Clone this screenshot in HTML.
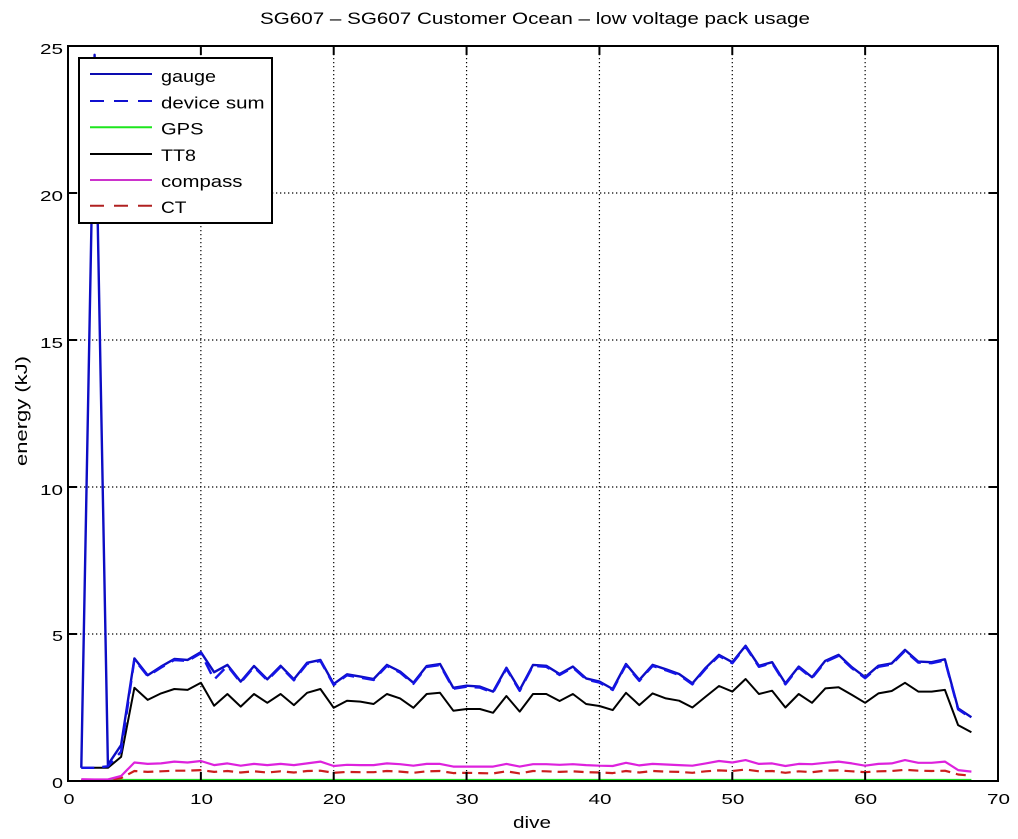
<!DOCTYPE html>
<html>
<head>
<meta charset="utf-8">
<style>
html,body{margin:0;padding:0;background:#fff;}
svg{display:block;}
text{font-family:"Liberation Sans",Arial,sans-serif;fill:#000;}
</style>
</head>
<body>
<svg width="1018" height="839" viewBox="0 0 1018 839" xmlns="http://www.w3.org/2000/svg">
<rect x="0" y="0" width="1018" height="839" fill="#fff"/>

<!-- title -->
<text x="535" y="24" font-size="16.5" text-anchor="middle" textLength="550" lengthAdjust="spacingAndGlyphs">SG607 – SG607 Customer Ocean – low voltage pack usage</text>

<!-- grid -->
<g stroke="#000" stroke-width="1.2" stroke-dasharray="1.3 2.7" fill="none">
<line x1="200.86" y1="46" x2="200.86" y2="781"/>
<line x1="333.71" y1="46" x2="333.71" y2="781"/>
<line x1="466.57" y1="46" x2="466.57" y2="781"/>
<line x1="599.43" y1="46" x2="599.43" y2="781"/>
<line x1="732.29" y1="46" x2="732.29" y2="781"/>
<line x1="865.14" y1="46" x2="865.14" y2="781"/>
<line x1="68" y1="634" x2="998" y2="634"/>
<line x1="68" y1="487" x2="998" y2="487"/>
<line x1="68" y1="340" x2="998" y2="340"/>
<line x1="68" y1="193" x2="998" y2="193"/>
</g>

<!-- data -->
<g fill="none" stroke-linejoin="round" stroke-linecap="butt">
<polyline stroke="#22dd22" stroke-width="2.2" points="81.3,780 971.4,780"/>
<polyline stroke="#cc1e1e" stroke-width="2.2" stroke-dasharray="10 6" points="81.3,780.1 94.6,780.1 107.9,780.1 121.1,778.1 134.4,771 147.7,771.9 161,771.3 174.3,770.7 187.6,770.7 200.9,770.1 214.1,771.9 227.4,771 240.7,772.5 254,771.3 267.3,772.5 280.6,771.3 293.9,772.5 307.1,771 320.4,770.7 333.7,772.8 347,771.9 360.3,772.2 373.6,772.2 386.9,771 400.1,771.6 413.4,772.8 426.7,771.3 440,771 453.3,773.1 466.6,772.8 479.9,773.1 493.1,773.4 506.4,771.3 519.7,773.4 533,771 546.3,771.3 559.6,771.9 572.9,771.3 586.1,772.2 599.4,772.5 612.7,773.1 626,771 639.3,772.5 652.6,771 665.9,771.6 679.1,771.9 692.4,772.8 705.7,771.3 719,770.4 732.3,771 745.6,769.5 758.9,771.3 772.1,771 785.4,772.8 798.7,771.3 812,772.2 825.3,770.7 838.6,770.4 851.9,771.3 865.1,772.2 878.4,771.3 891.7,771 905,769.8 918.3,770.7 931.6,771 944.9,770.7 958.1,774.5 971.4,775.7"/>
<polyline stroke="#dd22dd" stroke-width="2.2" points="81.3,779.2 94.6,779.5 107.9,779.5 121.1,776 134.4,762.5 147.7,763.9 161,763.4 174.3,761.6 187.6,762.5 200.9,761 214.1,765.1 227.4,763.4 240.7,765.7 254,763.9 267.3,765.1 280.6,763.9 293.9,765.1 307.1,763.4 320.4,761.6 333.7,766 347,764.8 360.3,765.1 373.6,765.1 386.9,763.4 400.1,764.2 413.4,765.7 426.7,763.9 440,763.9 453.3,766.6 466.6,766.6 479.9,766.6 493.1,766.6 506.4,763.9 519.7,766.6 533,764.2 546.3,764.2 559.6,764.8 572.9,764.2 586.1,765.1 599.4,765.7 612.7,766 626,762.8 639.3,765.4 652.6,763.9 665.9,764.5 679.1,765.1 692.4,765.7 705.7,763.4 719,761 732.3,762.5 745.6,760.1 758.9,763.9 772.1,763.4 785.4,766 798.7,763.9 812,764.2 825.3,762.8 838.6,761.6 851.9,763.4 865.1,765.7 878.4,763.9 891.7,763.4 905,760.1 918.3,762.8 931.6,762.8 944.9,761.6 958.1,770.1 971.4,771.6"/>
<polyline stroke="#000" stroke-width="2" points="81.3,767.8 94.6,767.8 107.9,767.8 121.1,756.9 134.4,687.8 147.7,699.9 161,693.4 174.3,689 187.6,689.9 200.9,682.8 214.1,705.7 227.4,694 240.7,706.6 254,694 267.3,702.8 280.6,694 293.9,705.1 307.1,692.8 320.4,689 333.7,707.8 347,700.7 360.3,701.6 373.6,704 386.9,694 400.1,698.4 413.4,707.8 426.7,694 440,692.8 453.3,710.7 466.6,709 479.9,709 493.1,712.8 506.4,696 519.7,711.6 533,694 546.3,694 559.6,701 572.9,694 586.1,704 599.4,706 612.7,710.1 626,692.8 639.3,705.1 652.6,693.4 665.9,698.4 679.1,700.7 692.4,707.5 705.7,696.6 719,686 732.3,691.6 745.6,679 758.9,694 772.1,690.7 785.4,707.5 798.7,694 812,702.8 825.3,688.4 838.6,687.2 851.9,694.9 865.1,702.8 878.4,693.4 891.7,691 905,682.8 918.3,691.6 931.6,691.6 944.9,689.9 958.1,725.1 971.4,732.2"/>
<polyline stroke="#0c0cc4" stroke-width="2.4" points="81.3,767.8 94.6,54.8 107.9,764.8 121.1,745.1 134.4,658.4 147.7,675.2 161,666.6 174.3,659 187.6,659.9 200.9,652.2 214.1,672.2 227.4,664.9 240.7,681.6 254,666 267.3,679.3 280.6,665.8 293.9,679.3 307.1,662.8 320.4,659.9 333.7,684 347,674.3 360.3,676.6 373.6,679 386.9,664.9 400.1,671.6 413.4,682.8 426.7,666 440,664 453.3,687.8 466.6,685.7 479.9,686.6 493.1,691.6 506.4,667.8 519.7,689.9 533,664.9 546.3,665.8 559.6,674 572.9,666.6 586.1,678.4 599.4,681.6 612.7,689 626,664 639.3,679.9 652.6,664.9 665.9,669.3 679.1,674 692.4,683.4 705.7,667.8 719,654.9 732.3,662.2 745.6,645.8 758.9,665.8 772.1,662.2 785.4,683.4 798.7,666.6 812,677.2 825.3,660.8 838.6,654.9 851.9,667.2 865.1,677.2 878.4,665.8 891.7,663.4 905,649.9 918.3,661.6 931.6,662.2 944.9,659.3 958.1,708.4 971.4,717.2"/>
<polyline stroke="#1414e6" stroke-width="2.4" stroke-dasharray="13 8" points="81.3,767.8 94.6,767.8 107.9,766.3 121.1,751.6 134.4,659.4 147.7,676.2 161,667.6 174.3,660 187.6,660.9 200.9,653.2 214.1,679.6 227.4,665.9 240.7,682.6 254,667 267.3,680.3 280.6,666.8 293.9,680.3 307.1,663.8 320.4,660.9 333.7,685 347,675.3 360.3,677.6 373.6,680 386.9,665.9 400.1,672.6 413.4,683.8 426.7,667 440,665 453.3,688.8 466.6,686.7 479.9,687.6 493.1,692.6 506.4,668.8 519.7,690.9 533,665.9 546.3,666.8 559.6,675 572.9,667.6 586.1,679.4 599.4,682.6 612.7,690 626,665 639.3,680.9 652.6,665.9 665.9,670.3 679.1,675 692.4,684.4 705.7,668.8 719,655.9 732.3,663.2 745.6,646.8 758.9,666.8 772.1,663.2 785.4,684.4 798.7,667.6 812,678.2 825.3,661.8 838.6,655.9 851.9,668.2 865.1,678.2 878.4,666.8 891.7,664.4 905,650.9 918.3,662.6 931.6,663.2 944.9,660.3 958.1,709.4 971.4,718.2"/>
</g>

<!-- axes box -->
<rect x="68" y="46" width="930" height="735" fill="none" stroke="#000" stroke-width="2"/>

<!-- ticks -->
<g stroke="#000" stroke-width="2">
<line x1="200.86" y1="781" x2="200.86" y2="772"/>
<line x1="333.71" y1="781" x2="333.71" y2="772"/>
<line x1="466.57" y1="781" x2="466.57" y2="772"/>
<line x1="599.43" y1="781" x2="599.43" y2="772"/>
<line x1="732.29" y1="781" x2="732.29" y2="772"/>
<line x1="865.14" y1="781" x2="865.14" y2="772"/>
<line x1="200.86" y1="46" x2="200.86" y2="55"/>
<line x1="333.71" y1="46" x2="333.71" y2="55"/>
<line x1="466.57" y1="46" x2="466.57" y2="55"/>
<line x1="599.43" y1="46" x2="599.43" y2="55"/>
<line x1="732.29" y1="46" x2="732.29" y2="55"/>
<line x1="865.14" y1="46" x2="865.14" y2="55"/>
<line x1="68" y1="634" x2="77" y2="634"/>
<line x1="68" y1="487" x2="77" y2="487"/>
<line x1="68" y1="340" x2="77" y2="340"/>
<line x1="68" y1="193" x2="77" y2="193"/>
<line x1="998" y1="634" x2="989" y2="634"/>
<line x1="998" y1="487" x2="989" y2="487"/>
<line x1="998" y1="340" x2="989" y2="340"/>
<line x1="998" y1="193" x2="989" y2="193"/>
</g>

<!-- x tick labels -->
<g font-size="15" text-anchor="middle">
<text x="69" y="804" textLength="11" lengthAdjust="spacingAndGlyphs">0</text>
<text x="201.5" y="804" textLength="23" lengthAdjust="spacingAndGlyphs">10</text>
<text x="334.3" y="804" textLength="23" lengthAdjust="spacingAndGlyphs">20</text>
<text x="467.2" y="804" textLength="23" lengthAdjust="spacingAndGlyphs">30</text>
<text x="600" y="804" textLength="23" lengthAdjust="spacingAndGlyphs">40</text>
<text x="732.9" y="804" textLength="23" lengthAdjust="spacingAndGlyphs">50</text>
<text x="865.7" y="804" textLength="23" lengthAdjust="spacingAndGlyphs">60</text>
<text x="998.5" y="804" textLength="23" lengthAdjust="spacingAndGlyphs">70</text>
</g>

<!-- y tick labels -->
<g font-size="15" text-anchor="end">
<text x="63" y="788" textLength="11" lengthAdjust="spacingAndGlyphs">0</text>
<text x="63" y="641" textLength="11" lengthAdjust="spacingAndGlyphs">5</text>
<text x="63" y="495" textLength="23" lengthAdjust="spacingAndGlyphs">10</text>
<text x="63" y="348" textLength="23" lengthAdjust="spacingAndGlyphs">15</text>
<text x="63" y="201" textLength="23" lengthAdjust="spacingAndGlyphs">20</text>
<text x="63" y="54" textLength="23" lengthAdjust="spacingAndGlyphs">25</text>
</g>

<!-- axis labels -->
<text x="532" y="828" font-size="16.5" text-anchor="middle" textLength="38" lengthAdjust="spacingAndGlyphs">dive</text>
<text transform="translate(27,411) rotate(-90)" x="0" y="0" font-size="16.5" text-anchor="middle" textLength="110" lengthAdjust="spacingAndGlyphs">energy (kJ)</text>

<!-- legend -->
<rect x="79" y="58" width="193" height="165" fill="#fff" stroke="#000" stroke-width="2"/>
<g stroke-width="2">
<line x1="90" y1="74" x2="152" y2="74" stroke="#0c0cb0"/>
<line x1="90" y1="101" x2="152" y2="101" stroke="#1010d0" stroke-dasharray="14 10"/>
<line x1="90" y1="127.3" x2="152" y2="127.3" stroke="#1ee61e"/>
<line x1="90" y1="154" x2="152" y2="154" stroke="#000"/>
<line x1="90" y1="180" x2="152" y2="180" stroke="#cc33cc"/>
<line x1="90" y1="205.7" x2="152" y2="205.7" stroke="#b02020" stroke-dasharray="14 10"/>
</g>
<g font-size="16.5">
<text x="161" y="82" textLength="55" lengthAdjust="spacingAndGlyphs">gauge</text>
<text x="161" y="108.5" textLength="103.5" lengthAdjust="spacingAndGlyphs">device sum</text>
<text x="161" y="134.5" textLength="42.5" lengthAdjust="spacingAndGlyphs">GPS</text>
<text x="161" y="161" textLength="35" lengthAdjust="spacingAndGlyphs">TT8</text>
<text x="161" y="187" textLength="81.5" lengthAdjust="spacingAndGlyphs">compass</text>
<text x="161" y="213" textLength="25.5" lengthAdjust="spacingAndGlyphs">CT</text>
</g>
</svg>
</body>
</html>
